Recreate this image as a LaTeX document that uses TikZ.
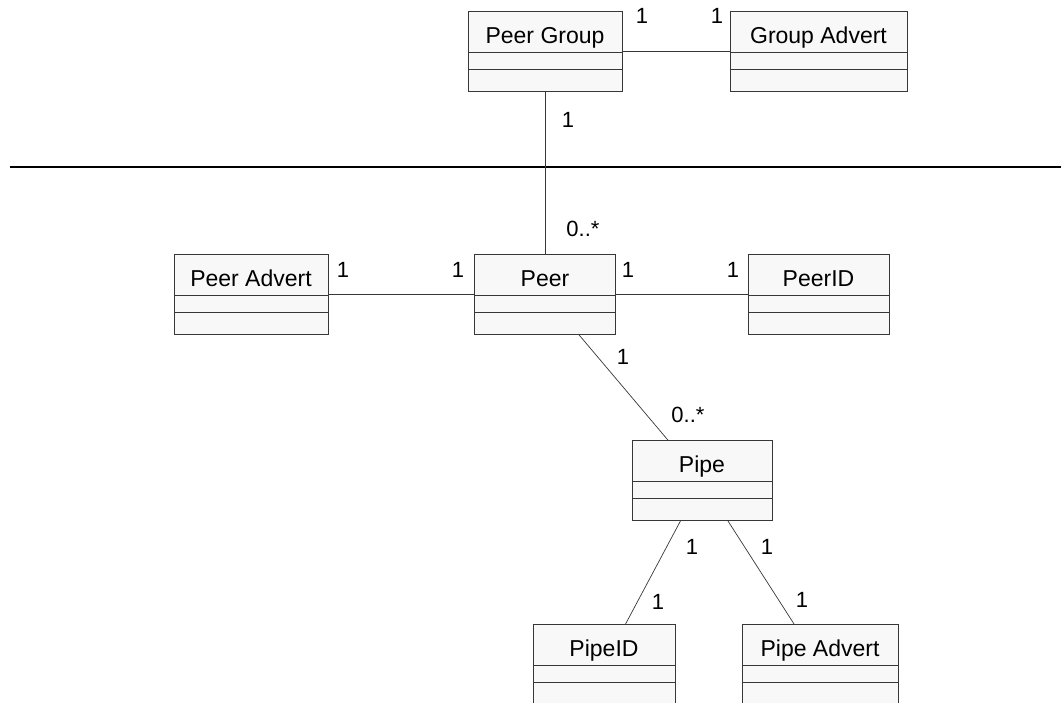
\documentclass[tikz,border=0pt]{standalone}
\usepackage{fontspec}
\setmainfont{Liberation Sans}
\usepackage{tikz}
\usetikzlibrary{shapes.multipart}
\usepackage{xcolor}
\definecolor{clsfill}{RGB}{248,248,248}
\definecolor{clsline}{RGB}{55,55,55}
\newcommand{\classparts}[1]{\rule[-9pt]{0pt}{40pt}#1\nodepart{two}\rule{0pt}{16pt}\nodepart{three}\rule{0pt}{21pt}}

\begin{document}
\begin{tikzpicture}[x=1pt, y=-1pt,
    umlclass/.style={rectangle split, rectangle split parts=3, draw=clsline,
        line width=0.9pt, fill=clsfill, inner xsep=4pt, inner ysep=0pt,
        font=\fontsize{23}{27}\selectfont},
    mult/.style={font=\fontsize{22}{26}\selectfont, inner sep=0pt},
    assoc/.style={draw=clsline, line width=0.7pt},
    divider/.style={line width=1.4pt, black}
]
    \useasboundingbox (0,0) rectangle (1061,702);

    \node[umlclass, minimum width=154pt] (pgroup) at (545,51.5) {\classparts{Peer Group}};
    \node[umlclass, minimum width=177pt] (gadvert) at (818.5,51.5) {\classparts{Group Advert}};
    \node[umlclass, minimum width=154pt] (padvert) at (251,294.5) {\classparts{Peer Advert}};
    \node[umlclass, minimum width=141pt] (peer) at (545,294.5) {\classparts{Peer}};
    \node[umlclass, minimum width=141pt] (peerid) at (818.5,294.5) {\classparts{PeerID}};
    \node[umlclass, minimum width=140pt] (pipe) at (702,480.5) {\classparts{Pipe}};
    \node[umlclass, minimum width=142pt] (pipeid) at (604,664.5) {\classparts{PipeID}};
    \node[umlclass, minimum width=156pt] (pipeadv) at (820,664.5) {\classparts{Pipe Advert}};

    \coordinate (sepL) at (10,167);
    \coordinate (sepR) at (1061,167);
    \draw[divider] (sepL) -- (sepR);

    \draw[assoc] (pgroup) -- (gadvert);
    \draw[assoc] (pgroup) -- (peer);
    \draw[assoc] (padvert) -- (peer);
    \draw[assoc] (peer) -- (peerid);
    \draw[assoc] (peer) -- (pipe);
    \draw[assoc] (pipe) -- (pipeid);
    \draw[assoc] (pipe) -- (pipeadv);

    % multiplicities
    \node[mult] (m-pg-r) at (642,16) {1};
    \node[mult] (m-ga-l) at (717,16) {1};
    \node[mult] (m-pg-b) at (568,120) {1};
    \node[mult] (m-peer-t) at (583,229) {0..*};
    \node[mult] (m-pa-r) at (343,270) {1};
    \node[mult] (m-peer-l) at (458,270) {1};
    \node[mult] (m-peer-r) at (628,270) {1};
    \node[mult] (m-pid-l) at (733,270) {1};
    \node[mult] (m-peer-b) at (623,357) {1};
    \node[mult] (m-pipe-t) at (688,415) {0..*};
    \node[mult] (m-pipe-bl) at (692,547) {1};
    \node[mult] (m-pipe-br) at (767,547) {1};
    \node[mult] (m-pipeid) at (658,602) {1};
    \node[mult] (m-pipeadv) at (802,600) {1};
\end{tikzpicture}
\end{document}
